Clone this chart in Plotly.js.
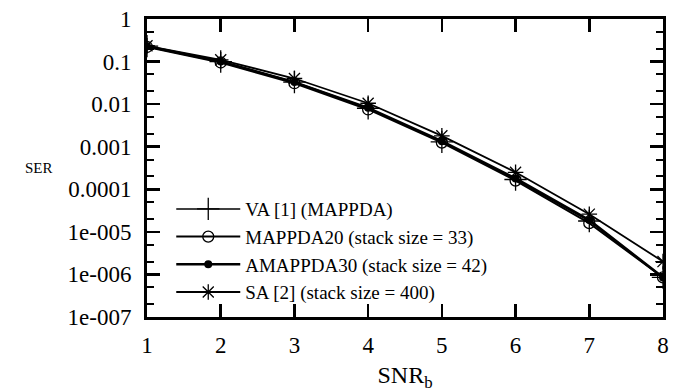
<!DOCTYPE html>
<html>
<head>
<meta charset="utf-8">
<script src="https://cdn.plot.ly/plotly-3.0.1.min.js"></script>
<style>html,body{margin:0;padding:0;background:#fff;}#chart{width:675px;height:392px;}</style>
</head>
<body>
<div id="chart"></div>
<script>
const snr = [1, 2, 3, 4, 5, 6, 7, 8];
const serVA = [0.23, 0.1, 0.033, 0.008, 0.0013, 0.00017, 1.8e-5, 8.5e-7];
const serMAPPDA20 = [0.22, 0.095, 0.031, 0.0075, 0.00125, 0.00016, 1.6e-5, 8.5e-7];
const serAMAPPDA30 = [0.23, 0.1, 0.033, 0.0082, 0.00135, 0.00018, 1.9e-5, 8.5e-7];
const serSA = [0.235, 0.11, 0.04, 0.0105, 0.0018, 0.00025, 2.6e-5, 2e-6];
const names = ["VA [1] (MAPPDA)", "MAPPDA20 (stack size = 33)", "AMAPPDA30 (stack size = 42)", "SA [2] (stack size = 400)"];
const yTickVals = [1e-7, 1e-6, 1e-5, 1e-4, 1e-3, 1e-2, 1e-1, 1];
const yTickText = ["1e-007", "1e-006", "1e-005", "0.0001", "0.001", "0.01", "0.1", "1"];
const xTickVals = [1, 2, 3, 4, 5, 6, 7, 8];

const serif = "Liberation Serif";
const traces = [
  {x: snr, y: serVA, name: names[0], mode: "lines+markers",
   line: {color: "#000", width: 1.5},
   marker: {symbol: "cross-thin-open", size: 16, color: "#000", line: {color: "#000", width: 1.3}}},
  {x: snr, y: serMAPPDA20, name: names[1], mode: "lines+markers",
   line: {color: "#000", width: 2},
   marker: {symbol: "circle-open", size: 11, color: "#000", line: {color: "#000", width: 1.3}}},
  {x: snr, y: serAMAPPDA30, name: names[2], mode: "lines+markers",
   line: {color: "#000", width: 2.5},
   marker: {symbol: "circle", size: 8, color: "#000"}},
  {x: snr, y: serSA, name: names[3], mode: "lines+markers",
   line: {color: "#000", width: 1.8},
   marker: {symbol: "asterisk-open", size: 13, color: "#000", line: {color: "#000", width: 1.3}}}
];

const layout = {
  width: 675, height: 392,
  margin: {l: 147, r: 12, t: 19, b: 75},
  paper_bgcolor: "#fff", plot_bgcolor: "#fff",
  font: {family: serif, color: "#000"},
  showlegend: true,
  legend: {x: 0.047, y: 0.02, xanchor: "left", yanchor: "bottom",
           bgcolor: "rgba(0,0,0,0)", itemwidth: 64, tracegroupgap: 0,
           font: {family: serif, size: 19, color: "#000"}},
  xaxis: {range: [1, 8], tickvals: xTickVals, ticks: "inside", ticklen: 13, tickwidth: 2.5,
          tickcolor: "#000", showline: true, linewidth: 3, linecolor: "#000", mirror: "allticks",
          showgrid: false, zeroline: false, ticklabelstandoff: 5,
          tickfont: {family: serif, size: 23, color: "#000"},
          title: {text: "SNR<sub>b</sub>", font: {family: serif, size: 24, color: "#000"}, standoff: 10}},
  yaxis: {type: "log", range: [-7, 0], tickvals: yTickVals, ticktext: yTickText,
          ticks: "inside", ticklen: 13, tickwidth: 2.5, tickcolor: "#000",
          showline: true, linewidth: 3, linecolor: "#000", mirror: "allticks",
          showgrid: false, zeroline: false, ticklabelstandoff: 8,
          tickfont: {family: serif, size: 23, color: "#000"},
          minor: {ticks: "inside", ticklen: 7, tickwidth: 2, tickcolor: "#000", dtick: "D2", showgrid: false}},
  annotations: [{text: "SER", xref: "paper", yref: "paper", x: -0.21, y: 0.5,
                 xanchor: "center", yanchor: "middle", showarrow: false,
                 font: {family: serif, size: 15, color: "#000"}}]
};

Plotly.newPlot("chart", traces, layout, {displayModeBar: false, staticPlot: true});
</script>
</body>
</html>
